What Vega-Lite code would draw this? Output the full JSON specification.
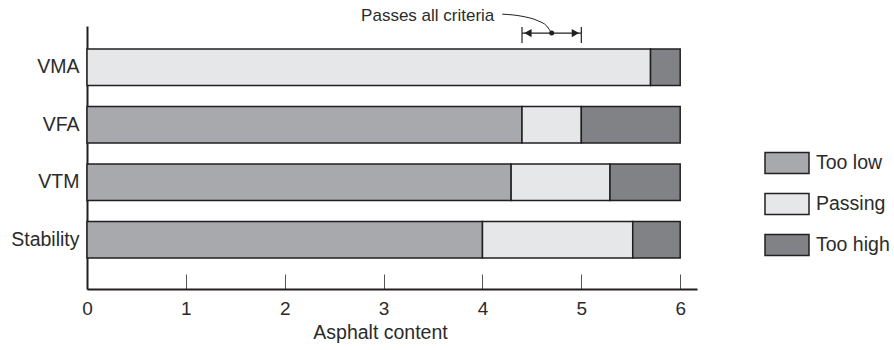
{
  "$schema": "https://vega.github.io/schema/vega-lite/v6.json",
  "width": 610,
  "height": 263,
  "autosize": {"type": "none"},
  "padding": {"left": 87, "top": 26, "right": 197, "bottom": 61},
  "background": "white",
  "config": {
    "view": {"stroke": null},
    "font": "Liberation Sans"
  },
  "datasets": {
    "bars": [
      {"criterion": "VMA", "status": "Passing", "start": 0, "end": 5.7},
      {"criterion": "VMA", "status": "Too high", "start": 5.7, "end": 6},
      {"criterion": "VFA", "status": "Too low", "start": 0, "end": 4.4},
      {"criterion": "VFA", "status": "Passing", "start": 4.4, "end": 5.0},
      {"criterion": "VFA", "status": "Too high", "start": 5.0, "end": 6},
      {"criterion": "VTM", "status": "Too low", "start": 0, "end": 4.29},
      {"criterion": "VTM", "status": "Passing", "start": 4.29, "end": 5.29},
      {"criterion": "VTM", "status": "Too high", "start": 5.29, "end": 6},
      {"criterion": "Stability", "status": "Too low", "start": 0, "end": 4.0},
      {"criterion": "Stability", "status": "Passing", "start": 4.0, "end": 5.52},
      {"criterion": "Stability", "status": "Too high", "start": 5.52, "end": 6}
    ],
    "label": [{"x": 4.12, "y": 10.38, "text": "Passes all criteria"}],
    "curve": [
      {"x": 4.2, "y": 10.45},
      {"x": 4.4, "y": 10.37},
      {"x": 4.56, "y": 10.2},
      {"x": 4.65, "y": 10.0},
      {"x": 4.7, "y": 9.73}
    ],
    "range": [{"x": 4.4, "x2": 5.0, "y": 9.73}],
    "ends": [{"x": 4.4, "y": 9.35, "y2": 9.96}, {"x": 5.0, "y": 9.35, "y2": 9.96}],
    "heads": [{"x": 4.46, "y": 9.73, "dir": "left"}, {"x": 4.94, "y": 9.73, "dir": "right"}],
    "dot": [{"x": 4.7, "y": 9.73}]
  },
  "layer": [
    {
      "data": {"name": "bars"},
      "mark": {"type": "bar", "stroke": "#231f20", "strokeWidth": 1.5},
      "encoding": {
        "y": {
          "field": "criterion", "type": "nominal",
          "sort": ["VMA", "VFA", "VTM", "Stability"],
          "scale": {"paddingInner": 0.365, "paddingOuter": 0.47, "align": 0.426},
          "axis": {"title": null, "ticks": false, "labelPadding": 8, "labelFontSize": 19.5, "labelColor": "#2b2b2b", "domainColor": "#231f20", "domainWidth": 2}
        },
        "x": {
          "field": "start", "type": "quantitative",
          "scale": {"domain": [0, 6.17], "nice": false},
          "axis": {"title": "Asphalt content", "values": [0, 1, 2, 3, 4, 5, 6], "grid": false, "tickSize": -15, "tickColor": "#555555", "tickWidth": 1, "labelPadding": 25, "labelFlush": false, "labelFontSize": 19, "labelColor": "#2b2b2b", "domainColor": "#231f20", "domainWidth": 2, "titleFontSize": 19.5, "titleFontWeight": "normal", "titleColor": "#2b2b2b", "titleX": 293, "titleY": 49, "titleBaseline": "alphabetic"}
        },
        "x2": {"field": "end"},
        "color": {
          "field": "status", "type": "nominal",
          "scale": {"domain": ["Too low", "Passing", "Too high"], "range": ["#a7a9ac", "#e6e7e8", "#808285"]},
          "legend": {"title": null, "orient": "none", "legendX": 677, "legendY": 125, "padding": 0, "symbolType": "M-1,-0.95H3V0.95H-1Z", "symbolSize": 484, "symbolStrokeColor": "#231f20", "symbolStrokeWidth": 1.5, "symbolOpacity": 1, "labelFontSize": 19.5, "labelColor": "#2b2b2b", "labelOffset": 28, "rowPadding": 13}
        }
      }
    },
    {
      "layer": [
        {
          "data": {"name": "label"},
          "mark": {"type": "text", "align": "right", "baseline": "middle", "fontSize": 17, "color": "#2b2b2b"},
          "encoding": {
            "x": {"field": "x", "type": "quantitative", "scale": {"domain": [0, 6.17], "nice": false}, "axis": null},
            "y": {"field": "y", "type": "quantitative", "scale": {"domain": [0, 10], "nice": false}, "axis": null},
            "text": {"field": "text"}
          }
        },
        {
          "data": {"name": "curve"},
          "mark": {"type": "line", "interpolate": "monotone", "color": "#231f20", "strokeWidth": 1},
          "encoding": {
            "x": {"field": "x", "type": "quantitative"},
            "y": {"field": "y", "type": "quantitative"}
          }
        },
        {
          "data": {"name": "range"},
          "mark": {"type": "rule", "color": "#231f20", "strokeWidth": 1.2},
          "encoding": {
            "x": {"field": "x", "type": "quantitative"},
            "x2": {"field": "x2"},
            "y": {"field": "y", "type": "quantitative"}
          }
        },
        {
          "data": {"name": "ends"},
          "mark": {"type": "rule", "color": "#231f20", "strokeWidth": 1.2},
          "encoding": {
            "x": {"field": "x", "type": "quantitative"},
            "y": {"field": "y", "type": "quantitative"},
            "y2": {"field": "y2"}
          }
        },
        {
          "data": {"name": "heads"},
          "mark": {"type": "point", "filled": true, "color": "#231f20", "opacity": 1, "size": 70},
          "encoding": {
            "x": {"field": "x", "type": "quantitative"},
            "y": {"field": "y", "type": "quantitative"},
            "shape": {"field": "dir", "type": "nominal", "scale": {"domain": ["left", "right"], "range": ["triangle-left", "triangle-right"]}, "legend": null}
          }
        },
        {
          "data": {"name": "dot"},
          "mark": {"type": "point", "filled": true, "shape": "circle", "color": "#231f20", "opacity": 1, "size": 25},
          "encoding": {
            "x": {"field": "x", "type": "quantitative"},
            "y": {"field": "y", "type": "quantitative"}
          }
        }
      ]
    }
  ],
  "resolve": {"scale": {"x": "independent", "y": "independent"}}
}
